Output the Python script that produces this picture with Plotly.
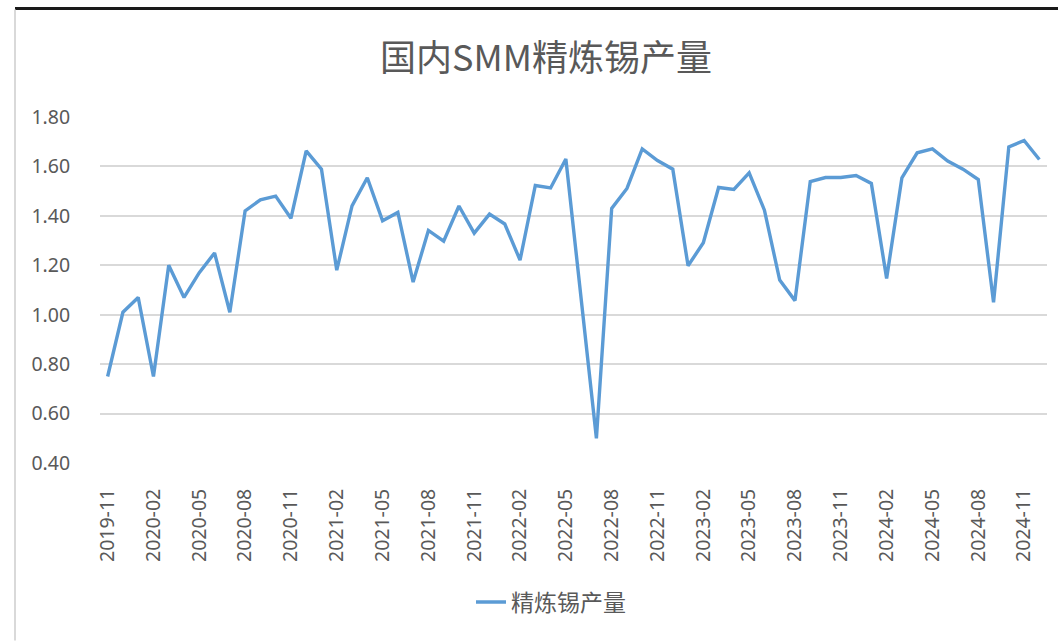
import plotly.graph_objects as go

months = [f"{y}-{m:02d}" for y, m in
          [(2019, 11), (2019, 12)] + [(yy, mm) for yy in range(2020, 2025) for mm in range(1, 13)]]

production = [
    0.75, 1.01, 1.07,
    0.75, 1.20, 1.07, 1.17, 1.25, 1.01, 1.42, 1.465, 1.48, 1.39, 1.663, 1.589,
    1.18, 1.44, 1.554, 1.38, 1.414, 1.132, 1.341, 1.298, 1.44, 1.33, 1.407, 1.367,
    1.221, 1.523, 1.513, 1.63, 1.07, 0.50, 1.43, 1.511, 1.671, 1.624, 1.589, 1.198,
    1.291, 1.515, 1.507, 1.574, 1.423, 1.14, 1.057, 1.539, 1.555, 1.555, 1.563, 1.531,
    1.147, 1.554, 1.655, 1.671, 1.622, 1.589, 1.547, 1.05, 1.679, 1.705, 1.628,
]
months = months[:len(production)]

tick_labels = months[::3]
y_ticks = [0.4, 0.6, 0.8, 1.0, 1.2, 1.4, 1.6, 1.8]

title_text = "国内SMM精炼锡产量"
series_name = "精炼锡产量"

W, H = 1058, 641
L, R, T, B = 100, 11, 116.7, 177.7
pw, ph = W - L - R, H - T - B

fig = go.Figure()
fig.add_trace(go.Scatter(
    x=months, y=production, mode="lines", name=series_name,
    line=dict(color="#5B9BD5", width=3.4),
))

gray = "#595959"
fig.update_layout(
    width=W, height=H,
    margin=dict(l=L, r=R, t=T, b=B),
    paper_bgcolor="white", plot_bgcolor="white",
    title=dict(text=title_text, x=546 / W, xanchor="center",
               y=1 - 58 / H, yanchor="middle",
               font=dict(family="Noto Sans CJK SC", size=36, color=gray)),
    showlegend=True,
    legend=dict(orientation="h", xref="container", yref="container",
                x=551 / W, xanchor="center", y=1 - 602 / H, yanchor="middle",
                font=dict(family="Noto Sans CJK SC", size=23, color=gray)),
    font=dict(family="Noto Sans", color=gray),
)
fig.update_xaxes(
    type="category", categoryorder="array", categoryarray=months,
    range=[-0.5, len(months) - 0.5],
    tickmode="array", tickvals=tick_labels, ticktext=tick_labels,
    tickangle=-90, tickfont=dict(family="Noto Sans", size=19.5, color=gray),
    ticks="outside", ticklen=17, tickcolor="rgba(0,0,0,0)",
    showgrid=False, showline=False, zeroline=False,
)
fig.update_yaxes(
    range=[0.4, 1.8], tickmode="array", tickvals=y_ticks,
    ticktext=[f"{v:.2f}" for v in y_ticks],
    tickfont=dict(family="Noto Sans", size=19.5, color=gray),
    ticks="outside", ticklen=25, tickcolor="rgba(0,0,0,0)",
    showgrid=True, gridcolor="#D9D9D9", gridwidth=1.5,
    showline=False, zeroline=False,
)

# frame decorations (top dark edge and left gray edge of the chart box)
def px_x(p):
    return (p - L) / pw

def px_y(p):
    return (H - B - p) / ph

fig.add_shape(type="line", xref="paper", yref="paper",
              x0=px_x(15), x1=px_x(W), y0=px_y(8), y1=px_y(8),
              line=dict(color="#1a1a1a", width=3))
fig.add_shape(type="line", xref="paper", yref="paper",
              x0=px_x(15), x1=px_x(15), y0=px_y(9), y1=px_y(H),
              line=dict(color="#D9D9D9", width=2))

fig.write_html("out.html", config={"displayModeBar": False},
               post_script="document.body.style.margin='0';document.body.style.overflow='hidden';")
